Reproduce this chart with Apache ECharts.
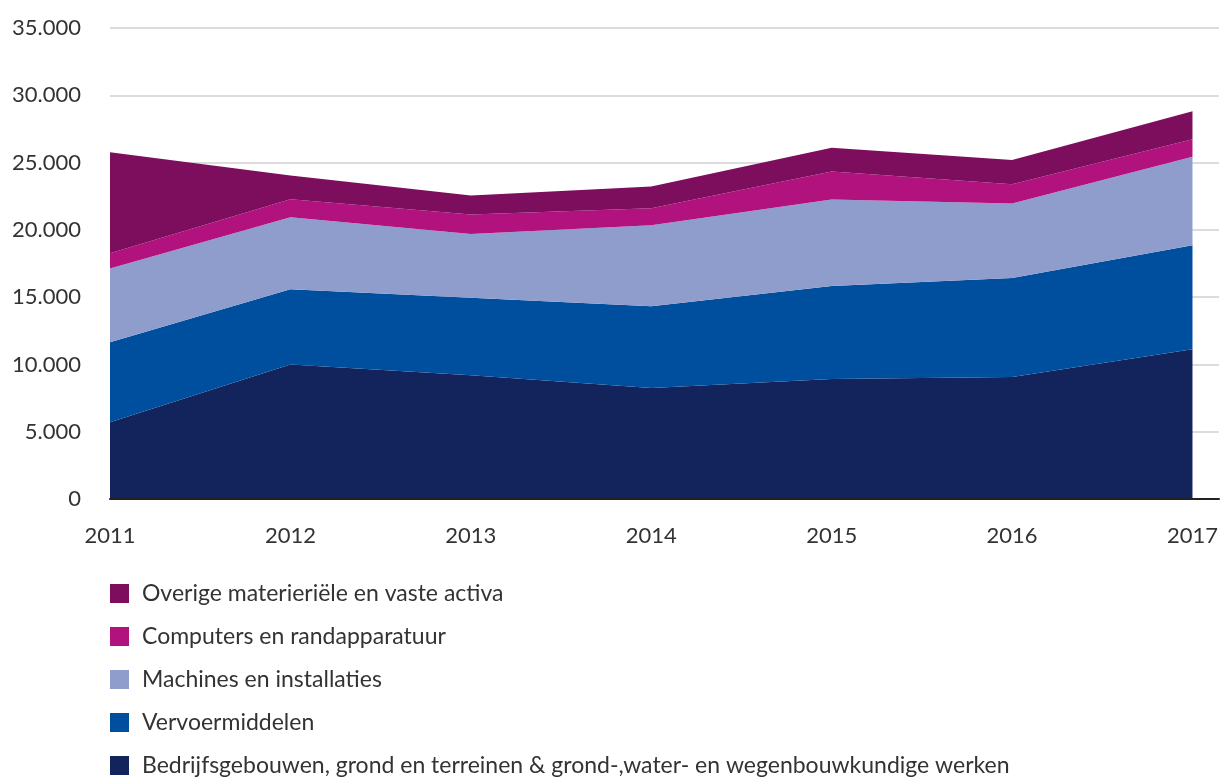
<!DOCTYPE html>
<html>
<head>
<meta charset="utf-8">
<script src="https://cdn.jsdelivr.net/npm/echarts@6/dist/echarts.min.js"></script>
<style>
html,body{margin:0;padding:0;background:#fff;}
#chart{width:1221px;height:780px;}
</style>
</head>
<body>
<div id="chart"></div>
<script>
// Data
const years = ['2011', '2012', '2013', '2014', '2015', '2016', '2017'];
const bedrijfsgebouwen = [5700, 10000, 9190, 8250, 8920, 9070, 11130];
const vervoermiddelen = [5950, 5590, 5770, 6080, 6900, 7350, 7720];
const machines = [5470, 5350, 4740, 6010, 6440, 5540, 6580];
const computers = [1140, 1340, 1440, 1270, 2080, 1420, 1300];
const overige = [7500, 1760, 1410, 1620, 1760, 1810, 2080];
const yTicks = [0, 5000, 10000, 15000, 20000, 25000, 30000, 35000];

const names = {
  overige: 'Overige materieriële en vaste activa',
  computers: 'Computers en randapparatuur',
  machines: 'Machines en installaties',
  vervoer: 'Vervoermiddelen',
  bedrijf: 'Bedrijfsgebouwen, grond en terreinen & grond-,water- en wegenbouwkundige werken'
};

const FONT = 'Lato';
const TXT = '#333333';
const YMIN = yTicks[0], YMAX = yTicks[yTicks.length - 1], YSTEP = yTicks[1] - yTicks[0];

function mk(name, arr, color) {
  return {
    name: name, type: 'line', stack: 'total', data: arr,
    xAxisIndex: 0, yAxisIndex: 0,
    symbol: 'none', showSymbol: false,
    lineStyle: { width: 0 },
    itemStyle: { color: color },
    areaStyle: { color: color, opacity: 1 },
    emphasis: { disabled: true }
  };
}
function fmtNL(v) { return String(v).replace(/\B(?=(\d{3})+(?!\d))/g, '.'); }

const chart = echarts.init(document.getElementById('chart'), null, { renderer: 'canvas' });
chart.setOption({
  animation: false,
  backgroundColor: '#ffffff',
  grid: [
    { left: 110, right: 27, top: 28, bottom: 281, containLabel: false },
    { left: 110, right: 2, top: 28, bottom: 281, containLabel: false }
  ],
  xAxis: [
    {
      type: 'category', data: years, boundaryGap: false, gridIndex: 0,
      axisLine: { show: false }, axisTick: { show: false }, splitLine: { show: false },
      axisLabel: { margin: 26, color: TXT, fontFamily: FONT, fontSize: 22 }
    },
    {
      type: 'value', min: 0, max: 1, gridIndex: 1, z: 10,
      axisLine: { show: true, lineStyle: { color: '#222222', width: 2 } },
      axisTick: { show: false }, splitLine: { show: false }, axisLabel: { show: false }
    }
  ],
  yAxis: [
    {
      type: 'value', min: YMIN, max: YMAX, interval: YSTEP, gridIndex: 0,
      axisLine: { show: false }, axisTick: { show: false },
      splitLine: { show: false }, axisLabel: { show: false }
    },
    {
      type: 'value', min: YMIN, max: YMAX, interval: YSTEP, gridIndex: 1,
      axisLine: { show: false }, axisTick: { show: false },
      splitLine: { show: true, lineStyle: { color: '#d0d0d0', width: 1.5 } },
      axisLabel: { margin: 29, color: TXT, fontFamily: FONT, fontSize: 22, formatter: fmtNL }
    }
  ],
  legend: {
    orient: 'vertical', left: 110, top: 582, padding: 0,
    itemWidth: 19, itemHeight: 19, itemGap: 20, icon: 'rect',
    data: [names.overige, names.computers, names.machines, names.vervoer, names.bedrijf],
    textStyle: { color: TXT, fontFamily: FONT, fontSize: 23, padding: [0, 0, 0, 8] },
    selectedMode: false
  },
  series: [
    mk(names.bedrijf, bedrijfsgebouwen, '#13235b'),
    mk(names.vervoer, vervoermiddelen, '#004e9e'),
    mk(names.machines, machines, '#8f9dcd'),
    mk(names.computers, computers, '#b1127d'),
    mk(names.overige, overige, '#7d0d5d')
  ]
});
</script>
</body>
</html>
